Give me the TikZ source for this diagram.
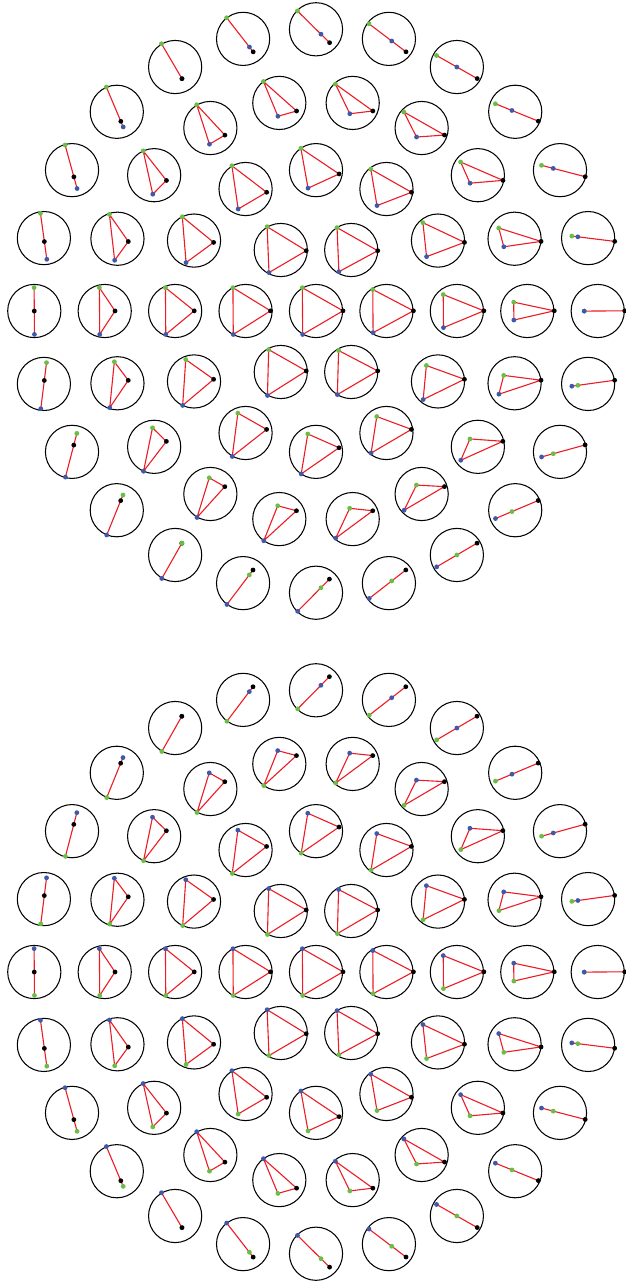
\documentclass[tikz,border=0pt]{standalone}
\definecolor{vgreen}{RGB}{106,189,69}
\definecolor{vblue}{RGB}{63,88,168}
\definecolor{vred}{RGB}{237,28,36}
\tikzset{
  cellcircle/.style={draw=black, line width=1.05pt},
  triedge/.style={draw=vred, line width=1.1pt, line cap=round, line join=round},
  vdot/.style={radius=2.4pt},
}
% #1 x, #2 y, #3 theta, #4 u, #5 r, #6 mirrored (0 top, 1 bottom)
\newcommand\cell[6]{%
  \pgfmathsetmacro\qax{13.5*((#4)+(#5)*cos(#3))}%
  \pgfmathsetmacro\qay{-13.5*(#5)*sin(#3)}%
  \pgfmathsetmacro\qbx{13.5*(-0.5*(#4)+(#5)*cos(-(#3)-120))}%
  \pgfmathsetmacro\qby{13.5*(0.8660254*(#4)+(#5)*sin(-(#3)-120))}%
  \pgfmathsetmacro\qcx{13.5*(-0.5*(#4)+(#5)*cos(120-(#3)))}%
  \pgfmathsetmacro\qcy{13.5*(-0.8660254*(#4)+(#5)*sin(120-(#3)))}%
  \begin{scope}[shift={(#1,#2)}]
    \draw[cellcircle] (0,0) circle[radius=26.6pt];
    \begin{scope}[rotate=0.4]
    \coordinate (K) at (\qax,\qay);
    \ifnum#6=0
      \coordinate (G) at (\qbx,\qby);
      \coordinate (B) at (\qcx,\qcy);
    \else
      \coordinate (B) at (\qbx,\qby);
      \coordinate (G) at (\qcx,\qcy);
    \fi
    \end{scope}
    \draw[triedge] (K) -- (G) -- (B) -- cycle;
    \fill[vgreen] (G) circle[vdot];
    \fill[vblue] (B) circle[vdot];
    \fill[black] (K) circle[vdot];
  \end{scope}%
}
\begin{document}
\begin{tikzpicture}[x=1pt,y=1pt]
\useasboundingbox (0,0) rectangle (626,-1283);
\cell{316}{-311}{0}{2}{0}{0}
\cell{316}{-972}{0}{2}{0}{1}
\foreach \k in {1,2,3,4}{
  \pgfmathsetmacro\cc{cos(22.5*\k)}
  \pgfmathsetmacro\uu{1+\cc}
  \pgfmathsetmacro\rr{1-\cc}
  \pgfmathtruncatemacro\nn{6*\k}
  \foreach \j in {1,...,\nn}{
    \pgfmathsetmacro\th{360*\j/\nn}
    \pgfmathsetmacro\px{316+70.43*\k*cos(\th)}
    \pgfmathsetmacro\py{-311+70.43*\k*sin(\th)}
    \pgfmathsetmacro\qy{-972+70.43*\k*sin(\th)}
    \cell{\px}{\py}{\th}{\uu}{\rr}{0}
    \ifnum\k=4 \ifnum\j=16
      \fill[vgreen] (G) circle[vdot];
    \fi\fi
    \cell{\px}{\qy}{-\th}{\uu}{\rr}{1}
  }
}
\end{tikzpicture}
\end{document}
